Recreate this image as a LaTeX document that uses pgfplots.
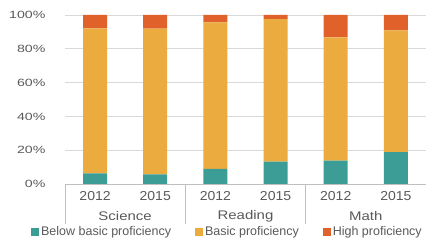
\documentclass[border=0pt]{standalone}
\usepackage{pgfplots}
\pgfplotsset{compat=1.18}
\usepackage{fontspec}
\setmainfont{Liberation Sans}
\definecolor{cBelow}{HTML}{3C9D96}
\definecolor{cBasic}{HTML}{EBAB3E}
\definecolor{cHigh}{HTML}{E0622A}
\definecolor{txt}{HTML}{595959}
\definecolor{gridc}{HTML}{D9D9D9}
\definecolor{linec}{HTML}{BFBFBF}
\begin{document}
\begin{tikzpicture}
\useasboundingbox (-65pt,-56pt) rectangle (361pt,184pt);
\begin{axis}[
  width=361pt, height=169pt, scale only axis,
  ybar stacked, bar width=24pt,
  xmin=-0.5, xmax=5.5, ymin=0, ymax=100,
  xtick={0,1,2,3,4,5},
  xticklabels={2012,2015,2012,2015,2012,2015},
  ytick={0,20,40,60,80,100},
  yticklabel={\pgfmathprintnumber{\tick}\%},
  /pgf/number format/assume math mode=true,
  major tick length=0,
  axis line style={draw=none},
  ymajorgrids, grid style={gridc, line width=0.8pt},
  yticklabel style={font=\fontsize{10.5}{11}\selectfont, text=txt, xscale=1.35, anchor=east, xshift=-11pt},
  xticklabel style={font=\fontsize{13}{14}\selectfont, text=txt, xscale=1.08, yshift=-4pt},
  clip=false,
  legend columns=3,
  legend style={draw=none, fill=none, at={(0.45,-0.285)}, anchor=center,
    font=\fontsize{12.5}{13}\selectfont, text=txt,
    /tikz/every even column/.append style={column sep=22pt},
    inner sep=0pt},
  legend image code/.code={\fill[#1] (0pt,-4pt) rectangle (8pt,4pt);},
  legend cell align=left,
]
\addplot[fill=cBelow, draw=none] coordinates {(0,6.3) (1,5.7) (2,8.9) (3,13.2) (4,13.8) (5,18.8)};
\addplot[fill=cBasic, draw=none] coordinates {(0,85.8) (1,86.2) (2,86.8) (3,84.4) (4,73.0) (5,72.1)};
\addplot[fill=cHigh, draw=none] coordinates {(0,7.9) (1,8.1) (2,4.3) (3,2.4) (4,13.2) (5,9.1)};
\legend{Below basic proficiency, Basic proficiency, High proficiency}
\draw[linec, line width=0.8pt] (axis cs:-0.5,0) -- (axis cs:5.5,0);
\draw[linec, line width=0.8pt] (axis cs:-0.5,0) -- ([yshift=-40pt]axis cs:-0.5,0);
\draw[linec, line width=0.8pt] (axis cs:1.5,0) -- ([yshift=-40pt]axis cs:1.5,0);
\draw[linec, line width=0.8pt] (axis cs:3.5,0) -- ([yshift=-40pt]axis cs:3.5,0);
\draw[linec, line width=0.8pt] (axis cs:5.5,0) -- ([yshift=-40pt]axis cs:5.5,0);
\node[text=txt, font=\fontsize{12.5}{13}\selectfont, xscale=1.2] at ([yshift=-32pt]axis cs:0.5,0) {Science};
\node[text=txt, font=\fontsize{12.5}{13}\selectfont, xscale=1.2] at ([yshift=-32pt]axis cs:2.5,0) {Reading};
\node[text=txt, font=\fontsize{12.5}{13}\selectfont, xscale=1.2] at ([yshift=-32pt]axis cs:4.5,0) {Math};
\end{axis}
\end{tikzpicture}
\end{document}
